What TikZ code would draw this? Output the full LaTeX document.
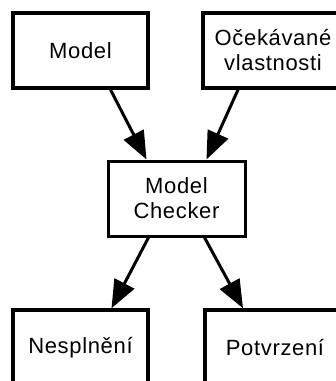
\documentclass[tikz,border=0pt]{standalone}
\usepackage{fontspec}
\setmainfont{Liberation Sans}[LetterSpace=3]
\usetikzlibrary{arrows.meta}
\begin{document}
\begin{tikzpicture}[x=1pt, y=-1pt,
  box/.style={draw, line width=3.5pt, minimum width=135pt, minimum height=75pt,
    inner sep=0pt, align=center, font=\fontsize{22}{25}\selectfont},
  flow/.style={line width=3pt, -{Triangle[length=28pt, width=22pt]}}]
\useasboundingbox (0,0) rectangle (336,381);
\clip (0,0) rectangle (336,381);

% inputs
\node[box] (model) at (80.5,50.5) {Model};
\node[box, minimum width=140pt] (props) at (273,50.5) {Očekávané\\vlastnosti};

% checker
\node[box, minimum width=137pt, line width=3pt] (checker) at (176.5,198.5) {Model\\Checker};

% results
\node[box] (fail) at (80.5,347.5) {Nesplnění};
\node[box, minimum width=140pt] (ok) at (275,347.5) {Potvrzení};

% connectors
\draw[flow] ([xshift=30pt]model.south) -- ([xshift=-30pt]checker.north);
\draw[flow] ([xshift=-35pt]props.south) -- ([xshift=30pt]checker.north);
\draw[flow] ([xshift=-28pt]checker.south) -- ([xshift=31pt]fail.north);
\draw[flow] ([xshift=28pt]checker.south) -- ([xshift=-32pt]ok.north);
\end{tikzpicture}
\end{document}
